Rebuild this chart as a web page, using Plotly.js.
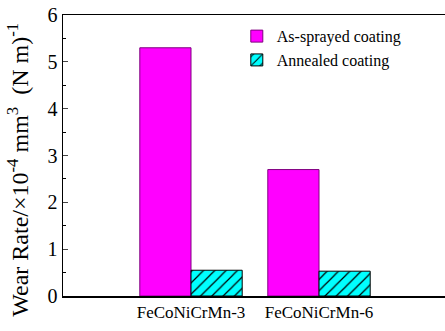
<!DOCTYPE html>
<html><head><meta charset="utf-8">
<script src="https://cdn.plot.ly/plotly-3.0.1.min.js"></script>
<style>body{margin:0;background:#fff}</style>
</head><body>
<div id="chart" style="width:445px;height:331px"></div>
<script>
const categories = ["FeCoNiCrMn-3", "FeCoNiCrMn-6"];
const asSprayed = [5.3, 2.7];
const annealed = [0.55, 0.53];
const seriesNames = ["As-sprayed coating", "Annealed coating"];
const yTitle = "Wear Rate/×10<sup>-4</sup> mm<sup>3</sup>  (N m)<sup>-1</sup>";
const xPos = [1, 2];

const fam = "'Liberation Serif'";
function f(size) { return {family: fam, size: size, color: "#000"}; }

const traces = [
  {type: "bar", name: seriesNames[0], x: xPos, y: asSprayed, offset: -0.4, width: 0.4,
   marker: {color: "#ff00ff", line: {color: "#800080", width: 1}}},
  {type: "bar", name: seriesNames[1], x: xPos, y: annealed, offset: 0, width: 0.4,
   marker: {color: "#00ffff", line: {color: "#000", width: 1},
     pattern: {shape: "/", fgcolor: "#000", bgcolor: "#00ffff", size: 8, solidity: 0.15}}}
];

const layout = {
  width: 445, height: 331,
  margin: {l: 63, r: 0, t: 15, b: 35},
  paper_bgcolor: "#fff", plot_bgcolor: "#fff",
  font: f(16),
  showlegend: true,
  legend: {x: 0.455, y: 0.985, xanchor: "left", yanchor: "top", bgcolor: "rgba(0,0,0,0)",
    font: f(16), tracegroupgap: 0, itemwidth: 30},
  xaxis: {range: [0, 382/128], tickvals: xPos, ticktext: categories, showgrid: false,
    zeroline: false, showline: true, linecolor: "#000", linewidth: 1.5, mirror: true,
    ticks: "", tickfont: f(17)},
  yaxis: {range: [0, 6], dtick: 1, showgrid: false, zeroline: false, showline: true,
    linecolor: "#000", linewidth: 1.5, ticks: "inside", ticklen: 5, tickwidth: 1,
    tickfont: f(20),
    minor: {dtick: 0.5, ticks: "inside", ticklen: 3, tickwidth: 1, tickcolor: "#000"}},
  annotations: [{text: yTitle, textangle: -90, xref: "paper", yref: "paper",
    x: -0.12, y: 0.45, xanchor: "center", yanchor: "middle", showarrow: false, font: f(24)}],
  bargap: 0
};

Plotly.newPlot("chart", traces, layout, {displayModeBar: false, staticPlot: true});
</script>
</body></html>
